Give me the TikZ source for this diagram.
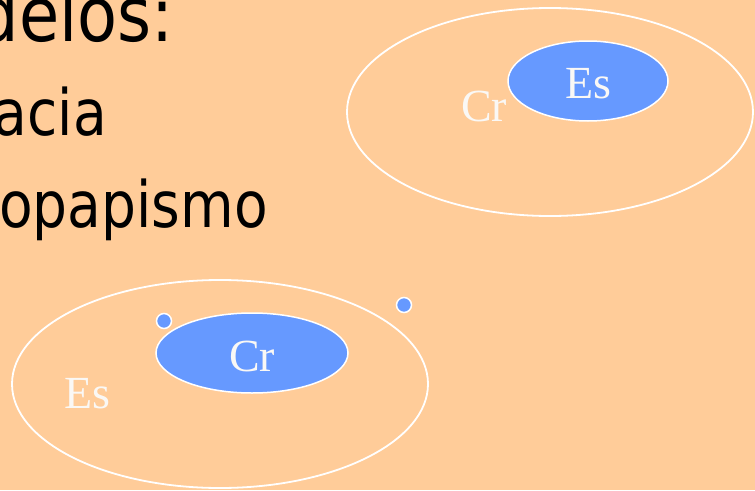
\documentclass[tikz,border=0pt]{standalone}
\usepackage{fontspec}
\setmainfont{Liberation Serif}
\newfontfamily\tahomalike[FakeStretch=0.86]{DejaVu Sans}
\usetikzlibrary{shapes.geometric}
\definecolor{peach}{HTML}{FFCC99}
\definecolor{bluefill}{HTML}{6699FF}
\definecolor{softwhite}{HTML}{FAF8F5}
\tikzset{
  outerell/.style={ellipse, draw=white, line width=1.8pt, inner sep=0pt},
  innerell/.style={ellipse, draw=white, fill=bluefill, line width=1.5pt, inner sep=0pt},
  dot/.style={circle, draw=white, fill=bluefill, line width=1.5pt, minimum size=15pt, inner sep=0pt},
  lbl/.style={text=softwhite, font=\fontsize{46}{50}\selectfont, inner sep=0pt},
  bigtxt/.style={font=\tahomalike\fontsize{64}{70}\selectfont, text=black, inner sep=0pt, anchor=base east},
  titletxt/.style={font=\tahomalike\fontsize{76}{80}\selectfont, text=black, inner sep=0pt, anchor=base east}
}
\begin{document}
\begin{tikzpicture}[x=1pt,y=-1pt]
\fill[peach] (0,0) rectangle (755,490);
\useasboundingbox (0,0) rectangle (755,490);
% text lines
\node[titletxt] (t1) at (174,41) {delos:};
\node[bigtxt] (t2) at (107,135) {acia};
\node[bigtxt] (t3) at (268,227) {opapismo};
% top-right ellipses
\node[outerell, minimum width=406pt, minimum height=208pt] (o1) at (550,112) {};
\node[innerell, minimum width=160pt, minimum height=80pt] (i1) at (588,81) {};
\node[lbl] (es1) at (588,84) {Es};
\node[lbl] (cr1) at (484,106) {Cr};
% bottom-left ellipses
\node[outerell, minimum width=416pt, minimum height=208pt] (o2) at (220,384) {};
\node[innerell, minimum width=192pt, minimum height=80pt] (i2) at (252,353) {};
\node[lbl] (cr2) at (252,356) {Cr};
\node[lbl] (es2) at (87,394) {Es};
\node[dot] (d1) at (164,321) {};
\node[dot] (d2) at (404,305) {};
\end{tikzpicture}
\end{document}
